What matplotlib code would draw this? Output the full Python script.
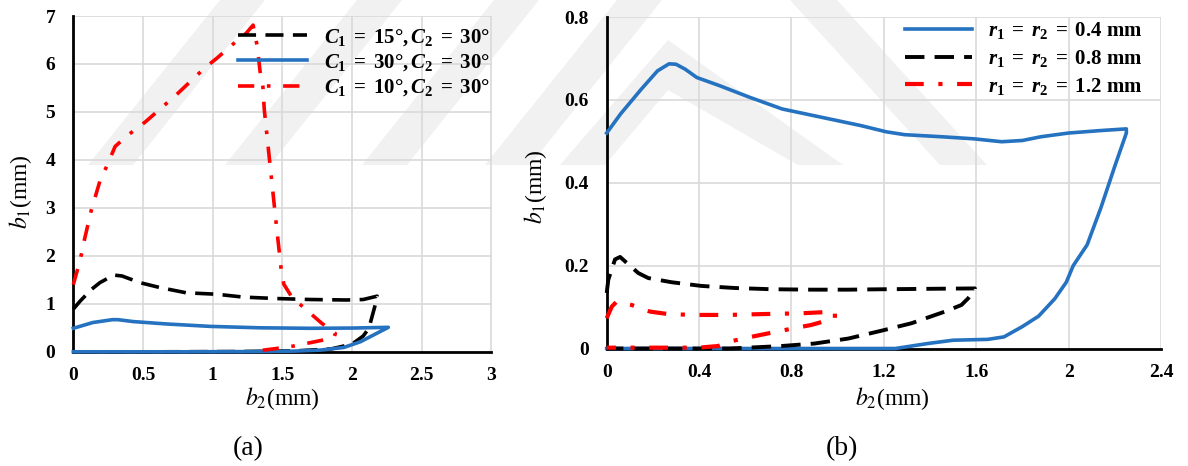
#!/usr/bin/env python3
# two b1-b2 loop plots side by side, (a) angle study and (b) radius study
import matplotlib
matplotlib.use('Agg')
import matplotlib.pyplot as plt
from matplotlib.patches import Polygon

# DATA
# (a) C1 / C2 angles, b2 and b1 in mm
a_c15_x = [0, 0.05, 0.13, 0.19, 0.29, 0.35, 0.48, 0.62, 0.81, 1.03, 1.22, 1.46, 1.70, 1.96, 2.08, 2.18,
           2.17, 2.14, 2.12, 2.08, 2.0, 1.85, 1.6, 1.2, 0.6, 0]
a_c15_y = [0.89, 1.06, 1.30, 1.44, 1.60, 1.58, 1.44, 1.34, 1.23, 1.20, 1.14, 1.11, 1.09, 1.08, 1.09, 1.16,
           1.02, 0.70, 0.49, 0.33, 0.16, 0.06, 0.02, 0.005, 0, 0]
a_c30_x = [0, 0.14, 0.28, 0.32, 0.43, 0.67, 0.98, 1.34, 1.70, 2.0, 2.26,
           2.18, 2.06, 1.94, 1.77, 1.58, 1.3, 0.8, 0]
a_c30_y = [0.49, 0.61, 0.67, 0.67, 0.63, 0.58, 0.53, 0.50, 0.49, 0.495, 0.51,
           0.39, 0.21, 0.09, 0.035, 0.014, 0.005, 0, 0]
a_c10_x = [0, 0.05, 0.08, 0.13, 0.19, 0.24, 0.30, 0.38, 0.52, 0.74, 0.94, 1.03, 1.16, 1.24, 1.29,
           1.32, 1.34, 1.36, 1.37, 1.40, 1.43, 1.46, 1.49, 1.51, 1.57, 1.67, 1.78, 1.85, 1.88, 1.87,
           1.80, 1.70, 1.58, 1.46, 1.27]
a_c10_y = [1.4, 1.92, 2.34, 2.96, 3.55, 3.87, 4.28, 4.49, 4.8, 5.36, 5.91, 6.12, 6.45, 6.64, 6.81,
           6.36, 5.84, 5.53, 5.05, 4.21, 3.38, 2.55, 1.75, 1.41, 1.13, 0.88, 0.6, 0.45, 0.38, 0.3,
           0.25, 0.19, 0.12, 0.07, 0]
a_labels = [r'$C_1\;=\;15°,C_2\;=\;30°$', r'$C_1\;=\;30°,C_2\;=\;30°$', r'$C_1\;=\;10°,C_2\;=\;30°$']
a_xticks = [0, 0.5, 1, 1.5, 2, 2.5, 3]
a_xticklabels = ['0', '0.5', '1', '1.5', '2', '2.5', '3']
a_yticks = [0, 1, 2, 3, 4, 5, 6, 7]
a_yticklabels = ['0', '1', '2', '3', '4', '5', '6', '7']

# (b) r1 = r2 radius
b_r04_x = [0, 0.06, 0.15, 0.22, 0.27, 0.30, 0.34, 0.39, 0.49, 0.62, 0.76, 0.93, 1.10, 1.21, 1.29, 1.45,
           1.59, 1.71, 1.80, 1.88, 2.0, 2.14, 2.25, 2.25, 2.20, 2.14, 2.08, 2.02, 1.99, 1.94, 1.87,
           1.80, 1.72, 1.65, 1.50, 1.39, 1.25, 0]
b_r04_y = [0.52, 0.566, 0.626, 0.67, 0.687, 0.686, 0.674, 0.654, 0.634, 0.606, 0.578, 0.558, 0.538,
           0.523, 0.516, 0.511, 0.506, 0.499, 0.502, 0.511, 0.52, 0.526, 0.53, 0.52, 0.44, 0.34, 0.25,
           0.20, 0.16, 0.12, 0.078, 0.053, 0.028, 0.022, 0.02, 0.012, 0, 0]
b_r08_x = [0, 0.007, 0.036, 0.058, 0.08, 0.137, 0.18, 0.28, 0.41, 0.555, 0.714, 0.887, 1.046, 1.2, 1.39,
           1.594, 1.594, 1.565, 1.536, 1.464, 1.32, 1.19, 1.046, 0.90, 0.757, 0.613, 0.53, 0]
b_r08_y = [0.134, 0.166, 0.215, 0.221, 0.21, 0.182, 0.17, 0.16, 0.151, 0.146, 0.143, 0.142, 0.142,
           0.143, 0.144, 0.145, 0.142, 0.121, 0.105, 0.089, 0.061, 0.043, 0.024, 0.012, 0.006, 0.002,
           0, 0]
b_r12_x = [0, 0.022, 0.043, 0.108, 0.188, 0.267, 0.38, 0.526, 0.67, 0.844, 0.988,
           0.988, 0.887, 0.757, 0.642, 0.526, 0.483, 0.397, 0.238, 0]
b_r12_y = [0.073, 0.101, 0.113, 0.105, 0.089, 0.083, 0.081, 0.081, 0.083, 0.085, 0.089,
           0.073, 0.057, 0.043, 0.03, 0.016, 0.006, 0.002, 0.002, 0.002]
b_labels = [r'$r_1\;=\;r_2\;=\;0.4\ \mathrm{mm}$', r'$r_1\;=\;r_2\;=\;0.8\ \mathrm{mm}$',
            r'$r_1\;=\;r_2\;=\;1.2\ \mathrm{mm}$']
b_xticks = [0, 0.4, 0.8, 1.2, 1.6, 2, 2.4]
b_xticklabels = ['0', '0.4', '0.8', '1.2', '1.6', '2', '2.4']
b_yticks = [0, 0.2, 0.4, 0.6, 0.8]
b_yticklabels = ['0', '0.2', '0.4', '0.6', '0.8']
# END DATA

BLUE = '#2572c0'
DASH = (0, (5, 2.6))
DASHDOT = (0, (4.5, 3.5, 1, 3.5))
GRID = '#d9d9d9'
TICKFONT = {'family': 'Liberation Serif', 'weight': 'bold', 'size': 14}
LEGSIZE = 15

plt.rcParams['mathtext.fontset'] = 'custom'
plt.rcParams['mathtext.rm'] = 'Liberation Serif:bold'
plt.rcParams['mathtext.it'] = 'Liberation Serif:italic:bold'
plt.rcParams['mathtext.bf'] = 'Liberation Serif:bold'
plt.rcParams['font.family'] = 'Liberation Serif'

W, H = 1188, 466
fig = plt.figure(figsize=(W / 100, H / 100), dpi=100, facecolor='white')

# faint watermark stripes behind everything (pixel coords, y down)
watermark = [
    [(88, 165), (133, 165), (265, 0), (220, 0)],
    [(225, 165), (270, 165), (402, 0), (357, 0)],
    [(362, 165), (407, 165), (539, 0), (494, 0)],
    [(485, 165), (530, 165), (662, 0), (617, 0)],
    [(560, 165), (668, 40), (843, 165), (798, 165), (668, 90), (605, 165)],
    [(790, 0), (837, 0), (987, 165), (940, 165)],
]
for poly in watermark:
    pts = [(px / W, 1 - py / H) for px, py in poly]
    fig.add_artist(Polygon(pts, closed=True, transform=fig.transFigure,
                           facecolor='#f1f1f1', edgecolor='none', zorder=-1))


def styleAxes(ax, xlim, ylim, xticks, xlabels, yticks, ylabels):
    """
        grid, spines and tick labels like the excel chart
    """
    ax.set_facecolor('none')
    ax.set_xlim(*xlim)
    ax.set_ylim(*ylim)
    ax.set_xticks(xticks, xlabels, fontdict=TICKFONT)
    ax.set_yticks(yticks, ylabels, fontdict=TICKFONT)
    ax.tick_params(axis='x', length=0, pad=11)
    ax.tick_params(axis='y', length=0, pad=13)
    ax.grid(True, color=GRID, linewidth=1.2)
    ax.set_axisbelow(True)
    for s in ['top', 'right']:
        ax.spines[s].set_visible(False)
    for s in ['left', 'bottom']:
        ax.spines[s].set_linewidth(2)
        ax.spines[s].set_zorder(2.5)


def axisLabels(ax, xl, yl):
    ax.set_xlabel(r'$b_2$(mm)', fontsize=17, math_fontfamily='stix', va='center')
    ax.set_ylabel(r'$b_1$(mm)', fontsize=17, math_fontfamily='stix', va='center')
    ax.xaxis.set_label_coords(*xl)
    ax.yaxis.set_label_coords(*yl)


# (a)
ax1 = fig.add_axes([73.3 / W, 1 - 351.8 / H, 418.2 / W, 335.8 / H])
styleAxes(ax1, (0, 3), (0, 7), a_xticks, a_xticklabels, a_yticks, a_yticklabels)
ax1.plot(a_c15_x, a_c15_y, color='black', lw=2.6, ls=DASH, label=a_labels[0], clip_on=False, zorder=3)
ax1.plot(a_c30_x, a_c30_y, color=BLUE, lw=2.6, label=a_labels[1], clip_on=False, zorder=3)
ax1.plot(a_c10_x, a_c10_y, color='red', lw=2.6, ls=DASHDOT, label=a_labels[2], clip_on=False, zorder=3)
axisLabels(ax1, (0.5, -0.14), (-0.126, 0.476))
ax1.legend(loc='upper right', bbox_to_anchor=(0.996, 0.968), frameon=False, fontsize=LEGSIZE,
           handlelength=3.3, handletextpad=0.8, labelspacing=0.22, borderpad=0, borderaxespad=0)

# (b)
ax2 = fig.add_axes([606.7 / W, 1 - 348.5 / H, 554.3 / W, 331.5 / H])
styleAxes(ax2, (0, 2.4), (0, 0.8), b_xticks, b_xticklabels, b_yticks, b_yticklabels)
ax2.plot(b_r04_x, b_r04_y, color=BLUE, lw=2.6, label=b_labels[0], clip_on=False, zorder=3)
ax2.plot(b_r08_x, b_r08_y, color='black', lw=2.8, ls=DASH, label=b_labels[1], clip_on=False, zorder=3)
ax2.plot(b_r12_x, b_r12_y, color='red', lw=3, ls=DASHDOT, label=b_labels[2], clip_on=False, zorder=3)
axisLabels(ax2, (0.516, -0.15), (-0.129, 0.487))
ax2.legend(loc='upper right', bbox_to_anchor=(0.9675, 0.99), frameon=False, fontsize=LEGSIZE,
           handlelength=3.2, handletextpad=0.8, labelspacing=0.32, borderpad=0, borderaxespad=0)

# captions under each panel
fig.text(248 / W, 1 - 449 / H, '(a)', fontsize=20, ha='center', va='center')
fig.text(842 / W, 1 - 449 / H, '(b)', fontsize=20, ha='center', va='center')

fig.savefig('out.png', dpi=100, facecolor='white')
